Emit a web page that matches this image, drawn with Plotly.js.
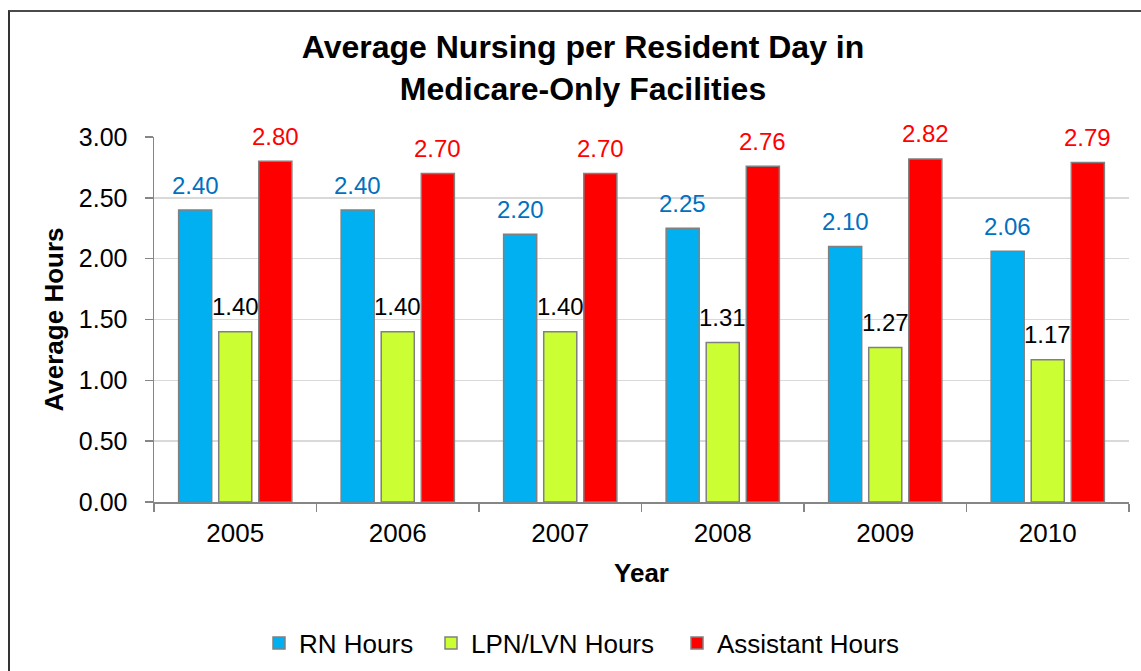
<!DOCTYPE html>
<html>
<head>
<meta charset="utf-8">
<script src="https://cdn.plot.ly/plotly-3.0.1.min.js"></script>
<style>
  html, body { margin: 0; padding: 0; background: #ffffff; }
  #wrap { position: relative; width: 1141px; height: 671px; overflow: hidden; }
  #chart { position: absolute; left: 0; top: 0; width: 1141px; height: 671px; }
  #frame { position: absolute; left: 8px; top: 10px; width: 1200px; height: 800px;
           border-left: 2px solid #333333; border-top: 2px solid #4a4a4a; pointer-events: none; }
</style>
</head>
<body>
<div id="wrap">
  <div id="chart"></div>
  <div id="frame"></div>
</div>
<script>
// ---- data ----
const years = ["2005", "2006", "2007", "2008", "2009", "2010"];
const rnHours = [2.40, 2.40, 2.20, 2.25, 2.10, 2.06];
const lpnHours = [1.40, 1.40, 1.40, 1.31, 1.27, 1.17];
const assistantHours = [2.80, 2.70, 2.70, 2.76, 2.82, 2.79];
const seriesNames = ["RN Hours", "LPN/LVN Hours", "Assistant Hours"];
const yTickVals = [0, 0.5, 1.0, 1.5, 2.0, 2.5, 3.0];
const yTickText = ["0.00", "0.50", "1.00", "1.50", "2.00", "2.50", "3.00"];

// ---- style ----
const FONT = "Liberation Sans, Arial, sans-serif";
const barColors = ["#00B0F0", "#CCFF33", "#FF0000"];
const labelColors = ["#0070C0", "#000000", "#FF0000"];
const seriesValues = [rnHours, lpnHours, assistantHours];
const xShifts = [-40, 0, 40];
const legendIds = ["legend", "legend2", "legend3"];
const legendLeft = [259, 431, 677];   // px from left of page, one legend entry each

const traces = seriesValues.map((vals, i) => ({
  type: "bar",
  name: seriesNames[i],
  x: years,
  y: vals,
  legend: legendIds[i],
  marker: { color: barColors[i], line: { color: "#808080", width: 1.5 } },
  hoverinfo: "x+y+name"
}));

// value labels: category axes take the category index as x
const annotations = [];
seriesValues.forEach((vals, i) => {
  vals.forEach((v, j) => {
    annotations.push({
      x: j, y: v, xref: "x", yref: "y",
      text: v.toFixed(2), showarrow: false,
      xshift: xShifts[i], yshift: 25,
      xanchor: "center", yanchor: "middle",
      font: { family: FONT, size: 24, color: labelColors[i] }
    });
  });
});

function legendBox(i) {
  return {
    orientation: "h",
    xref: "container", x: legendLeft[i] / 1141, xanchor: "left",
    yref: "container", y: 1 - 643 / 671, yanchor: "middle",
    font: { family: FONT, size: 26, color: "#000000" },
    itemwidth: 30, borderwidth: 0,
    bgcolor: "rgba(0,0,0,0)"
  };
}

const layout = {
  width: 1141, height: 671,
  paper_bgcolor: "#ffffff", plot_bgcolor: "#ffffff",
  margin: { l: 154, r: 12, t: 137, b: 169, pad: 0 },
  font: { family: FONT, size: 24, color: "#000000" },
  title: {
    text: "<b>Average Nursing per Resident Day in<br>Medicare-Only Facilities</b>",
    font: { family: FONT, size: 32, color: "#000000" },
    x: 583 / 1141, xanchor: "center", xref: "container",
    y: 1 - 58 / 671, yanchor: "top", yref: "container"
  },
  barmode: "group",
  bargap: 0.26,
  bargroupgap: 0.175,
  xaxis: {
    type: "category",
    range: [-0.5, years.length - 0.5],
    title: { text: "<b>Year</b>", font: { family: FONT, size: 26, color: "#000000" }, standoff: 17 },
    showline: true, linecolor: "#868686", linewidth: 1.5,
    ticks: "outside", tickson: "boundaries", ticklen: 8, tickcolor: "#868686", tickwidth: 1.5,
    ticklabelstandoff: 7,
    tickfont: { family: FONT, size: 26, color: "#000000" },
    tickangle: 0,
    showgrid: false, zeroline: false
  },
  yaxis: {
    range: [0, 3],
    title: { text: "<b>Average Hours</b>", font: { family: FONT, size: 26, color: "#000000" }, standoff: 7 },
    tickvals: yTickVals, ticktext: yTickText,
    showline: true, linecolor: "#868686", linewidth: 1.5,
    ticks: "outside", ticklen: 8, tickcolor: "#868686", tickwidth: 1.5,
    ticklabelstandoff: 12,
    tickfont: { family: FONT, size: 25, color: "#000000" },
    showgrid: true, gridcolor: "#d9d9d9", gridwidth: 1.5,
    zeroline: false
  },
  showlegend: true,
  legend: legendBox(0),
  legend2: legendBox(1),
  legend3: legendBox(2),
  annotations: annotations
};

Plotly.newPlot("chart", traces, layout, { displayModeBar: false, staticPlot: true });
</script>
</body>
</html>
